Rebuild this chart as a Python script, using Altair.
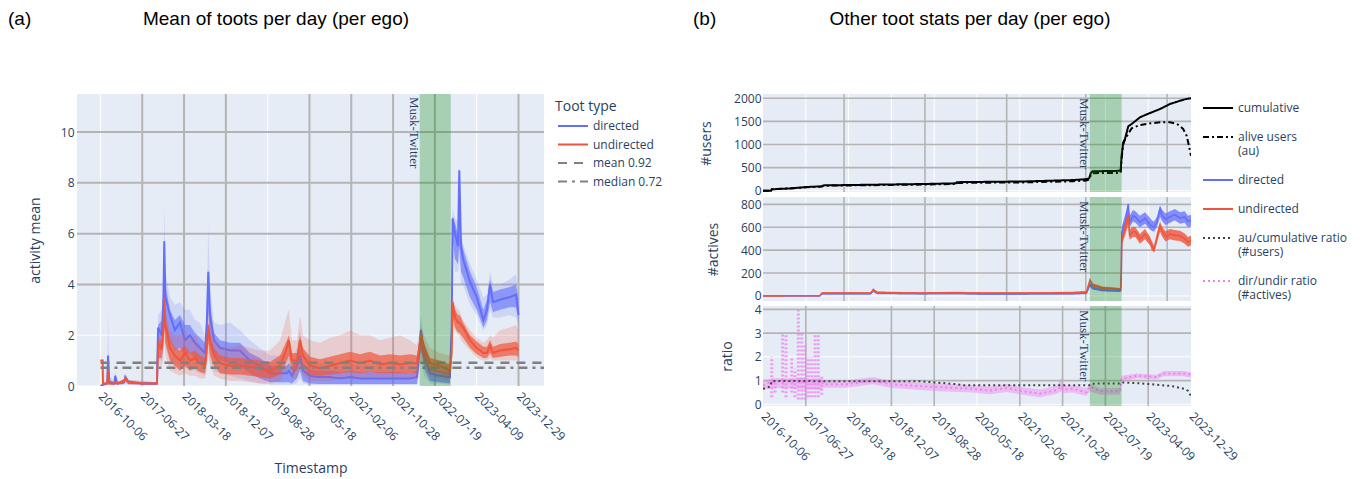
import altair as alt
import pandas as pd

# ---------------- shared ----------------
tick_dates = ["2016-10-06", "2017-06-27", "2018-03-18", "2018-12-07", "2019-08-28", "2020-05-18",
              "2021-02-06", "2021-10-28", "2022-07-19", "2023-04-09", "2023-12-29"]
musk_start = "2022-04-14"
musk_end = "2022-10-27"
musk_label = "Musk-Twitter"

# ---------------- panel (a) data ----------------
left_dates = [
    "2016-10-06", "2016-10-20", "2016-10-22", "2016-11-18", "2016-11-23", "2016-12-01", "2017-01-02", "2017-01-07", "2017-01-20", "2017-03-05",
    "2017-03-12", "2017-04-01", "2017-06-27", "2017-09-28", "2017-10-05", "2017-10-29", "2017-11-08", "2017-11-13", "2017-11-20", "2017-12-19",
    "2018-01-19", "2018-02-20", "2018-03-24", "2018-04-24", "2018-05-26", "2018-06-26", "2018-07-28", "2018-08-09", "2018-08-18", "2018-08-29",
    "2018-09-23", "2018-10-31", "2019-01-02", "2019-03-06", "2019-05-08", "2019-07-10", "2019-09-12", "2019-11-14", "2019-12-28", "2020-01-09",
    "2020-01-28", "2020-02-29", "2020-03-19", "2020-04-07", "2020-05-21", "2020-07-23", "2020-09-25", "2020-11-27", "2021-01-29", "2021-04-02",
    "2021-06-04", "2021-08-06", "2021-10-08", "2021-12-11", "2022-02-12", "2022-03-28", "2022-04-22", "2022-05-11", "2022-06-18", "2022-08-20",
    "2022-10-22", "2022-11-02", "2022-11-08", "2022-11-23", "2022-12-12", "2022-12-20", "2022-12-31", "2023-01-13", "2023-02-26", "2023-04-09",
    "2023-05-21", "2023-06-13", "2023-07-02", "2023-07-21", "2023-09-03", "2023-11-05", "2023-12-13", "2023-12-29"]
dir_mean = [
    0.00, 0.05, 0.05, 0.10, 1.20, 0.15, 0.10, 0.40, 0.10, 0.15,
    0.35, 0.15, 0.10, 0.10, 2.30, 2.00, 3.50, 5.70, 3.50, 2.80,
    2.20, 2.50, 1.80, 2.00, 1.70, 1.50, 1.30, 2.50, 4.50, 2.80,
    1.80, 1.50, 1.40, 1.40, 1.00, 0.80, 0.50, 0.50, 0.50, 0.60,
    0.40, 0.80, 1.20, 0.60, 0.40, 0.35, 0.35, 0.30, 0.35, 0.30,
    0.30, 0.30, 0.30, 0.30, 0.30, 0.35, 2.20, 1.20, 0.50, 0.40,
    0.35, 2.30, 6.60, 6.00, 5.50, 8.50, 5.50, 5.00, 4.10, 3.50,
    2.60, 3.00, 4.00, 3.30, 3.40, 3.50, 3.60, 2.80]
dir_core_low = [
    0.00, 0.02, 0.02, 0.05, 0.80, 0.08, 0.05, 0.25, 0.05, 0.08,
    0.25, 0.08, 0.05, 0.05, 1.50, 1.40, 2.20, 4.00, 2.20, 1.80,
    1.40, 1.50, 1.20, 1.30, 1.10, 1.00, 0.80, 1.60, 3.00, 1.80,
    1.20, 1.00, 0.90, 0.80, 0.50, 0.30, 0.15, 0.15, 0.15, 0.15,
    0.10, 0.30, 0.60, 0.20, 0.10, 0.08, 0.08, 0.08, 0.08, 0.08,
    0.08, 0.08, 0.08, 0.08, 0.08, 0.08, 1.40, 0.70, 0.20, 0.15,
    0.10, 1.80, 5.80, 5.00, 4.80, 5.50, 4.50, 4.30, 3.50, 3.00,
    2.30, 2.60, 3.30, 2.90, 3.00, 3.10, 3.10, 2.60]
dir_core_high = [
    0.00, 0.08, 0.08, 0.15, 1.30, 0.25, 0.15, 0.45, 0.15, 0.22,
    0.40, 0.22, 0.15, 0.15, 2.40, 2.60, 4.00, 5.80, 4.00, 3.00,
    2.60, 2.80, 2.40, 2.40, 2.10, 1.90, 1.70, 3.00, 4.60, 3.20,
    2.10, 1.80, 1.70, 1.70, 1.30, 1.10, 0.80, 0.80, 0.80, 0.90,
    0.70, 1.10, 1.50, 0.90, 0.65, 0.60, 0.60, 0.55, 0.60, 0.55,
    0.55, 0.55, 0.55, 0.55, 0.50, 0.60, 2.30, 1.50, 0.70, 0.60,
    0.55, 2.60, 6.70, 6.40, 6.00, 8.50, 5.90, 5.40, 4.50, 3.90,
    3.00, 3.40, 4.20, 3.70, 3.80, 3.90, 4.00, 3.40]
dir_low = [
    0.00, 0.00, 0.00, 0.05, 0.40, 0.05, 0.05, 0.10, 0.05, 0.05,
    0.10, 0.05, 0.05, 0.05, 1.00, 1.00, 1.50, 3.00, 1.50, 1.00,
    0.80, 0.80, 0.70, 0.70, 0.60, 0.50, 0.40, 1.00, 2.00, 1.00,
    0.60, 0.50, 0.40, 0.30, 0.20, 0.10, 0.05, 0.05, 0.05, 0.05,
    0.05, 0.10, 0.30, 0.10, 0.05, 0.05, 0.05, 0.05, 0.05, 0.05,
    0.05, 0.05, 0.05, 0.05, 0.05, 0.05, 1.00, 0.40, 0.10, 0.10,
    0.05, 1.50, 5.50, 4.50, 4.50, 5.00, 4.00, 4.00, 3.20, 2.80,
    2.20, 2.40, 3.00, 2.70, 2.70, 2.80, 2.70, 2.40]
dir_high = [
    0.00, 0.10, 0.10, 0.20, 3.00, 0.40, 0.20, 0.60, 0.20, 0.25,
    0.50, 0.25, 0.20, 0.15, 2.80, 3.00, 4.50, 7.20, 4.50, 3.50,
    3.20, 3.30, 3.00, 3.00, 2.60, 2.50, 2.00, 3.50, 6.30, 4.00,
    2.50, 2.40, 2.50, 2.20, 1.80, 1.50, 1.20, 1.20, 1.30, 1.40,
    1.00, 1.50, 2.20, 1.40, 1.00, 0.90, 0.90, 0.80, 0.90, 0.80,
    0.80, 0.80, 0.80, 0.80, 0.70, 0.80, 2.80, 1.80, 1.00, 0.80,
    0.80, 3.00, 7.00, 6.60, 6.50, 8.60, 6.00, 5.60, 4.80, 4.20,
    3.50, 3.60, 4.50, 4.00, 4.00, 4.20, 4.40, 3.60]
undir_mean = [
    1.00, 1.00, 0.10, 0.10, 0.60, 0.10, 0.10, 0.15, 0.10, 0.20,
    0.30, 0.15, 0.10, 0.10, 1.60, 1.50, 2.20, 3.40, 2.40, 1.50,
    1.20, 1.00, 1.30, 1.00, 1.10, 0.90, 0.80, 1.50, 2.40, 1.80,
    1.20, 0.90, 0.80, 0.80, 0.75, 0.70, 0.60, 0.80, 1.50, 1.80,
    1.00, 1.00, 1.80, 1.20, 0.80, 0.70, 0.80, 0.90, 1.00, 0.90,
    1.00, 0.85, 0.90, 0.85, 0.90, 0.90, 2.00, 1.50, 0.90, 0.80,
    0.60, 1.30, 3.30, 2.70, 2.50, 2.50, 2.40, 2.30, 1.80, 1.50,
    1.30, 1.30, 1.60, 1.30, 1.40, 1.45, 1.50, 1.40]
undir_core_low = [
    0.98, 0.95, 0.07, 0.07, 0.40, 0.07, 0.07, 0.10, 0.07, 0.12,
    0.20, 0.10, 0.07, 0.07, 1.10, 1.10, 1.60, 2.40, 1.70, 1.00,
    0.80, 0.60, 0.80, 0.60, 0.70, 0.55, 0.50, 1.00, 1.70, 1.20,
    0.80, 0.50, 0.45, 0.45, 0.40, 0.35, 0.30, 0.45, 1.00, 1.20,
    0.60, 0.60, 1.20, 0.70, 0.45, 0.40, 0.45, 0.50, 0.55, 0.50,
    0.55, 0.50, 0.50, 0.50, 0.50, 0.50, 1.50, 1.00, 0.60, 0.50,
    0.40, 1.00, 2.70, 2.30, 2.10, 2.10, 2.00, 1.90, 1.50, 1.25,
    1.10, 1.10, 1.30, 1.10, 1.15, 1.20, 1.20, 1.15]
undir_core_high = [
    1.02, 1.02, 0.13, 0.13, 0.70, 0.13, 0.13, 0.20, 0.13, 0.28,
    0.38, 0.20, 0.13, 0.13, 1.80, 1.80, 2.50, 3.50, 2.70, 1.90,
    1.50, 1.40, 1.60, 1.30, 1.40, 1.20, 1.10, 1.80, 2.50, 2.00,
    1.50, 1.20, 1.10, 1.10, 1.05, 1.00, 0.95, 1.20, 1.80, 2.00,
    1.30, 1.30, 2.00, 1.50, 1.15, 1.05, 1.15, 1.25, 1.35, 1.25,
    1.35, 1.20, 1.25, 1.20, 1.25, 1.20, 2.20, 1.70, 1.10, 1.00,
    0.85, 1.60, 3.40, 3.00, 2.80, 2.80, 2.70, 2.50, 2.00, 1.75,
    1.55, 1.55, 1.80, 1.55, 1.65, 1.70, 1.75, 1.65]
undir_low = [
    0.95, 0.90, 0.05, 0.05, 0.20, 0.05, 0.05, 0.05, 0.05, 0.10,
    0.15, 0.05, 0.05, 0.05, 0.80, 0.80, 1.00, 1.80, 1.20, 0.60,
    0.50, 0.40, 0.50, 0.40, 0.40, 0.30, 0.30, 0.60, 1.20, 0.80,
    0.40, 0.30, 0.20, 0.20, 0.15, 0.10, 0.10, 0.20, 0.60, 0.80,
    0.30, 0.30, 0.80, 0.40, 0.20, 0.20, 0.20, 0.30, 0.30, 0.30,
    0.30, 0.30, 0.30, 0.30, 0.30, 0.30, 1.00, 0.80, 0.40, 0.30,
    0.20, 0.80, 2.50, 2.20, 2.00, 2.00, 1.80, 1.70, 1.40, 1.10,
    1.00, 1.00, 1.10, 1.00, 1.00, 1.00, 1.00, 1.00]
undir_high = [
    1.05, 1.05, 0.15, 0.15, 1.00, 0.20, 0.15, 0.25, 0.15, 0.30,
    0.45, 0.25, 0.20, 0.15, 2.00, 2.00, 3.00, 4.00, 3.00, 2.20,
    2.00, 2.00, 2.20, 1.80, 2.00, 1.60, 1.40, 2.00, 3.00, 2.50,
    1.80, 1.60, 1.50, 1.60, 1.50, 1.40, 1.40, 1.80, 2.80, 3.00,
    1.80, 1.80, 2.80, 2.00, 1.80, 1.70, 1.90, 2.00, 2.20, 2.00,
    2.00, 1.80, 1.90, 2.00, 1.80, 1.60, 2.40, 2.00, 1.50, 1.30,
    1.20, 1.80, 3.60, 3.20, 3.00, 3.00, 2.80, 2.60, 2.20, 1.90,
    1.70, 1.80, 2.00, 1.90, 2.20, 2.30, 2.40, 2.20]
mean_value = 0.92
median_value = 0.72

# ---------------- panel (b) data ----------------
users_dates = ["2016-10-06", "2016-11-25", "2016-11-29", "2017-03-22", "2017-07-03", "2017-10-05", "2017-10-13", "2018-08-17",
               "2019-06-22", "2020-01-10", "2020-01-14", "2021-02-28", "2021-12-31", "2022-03-24", "2022-04-10", "2022-04-20",
               "2022-05-01", "2022-10-21", "2022-10-27", "2022-11-06", "2022-11-17", "2022-12-07", "2022-12-28", "2023-02-17",
               "2023-04-20", "2023-06-21", "2023-08-21", "2023-10-01", "2023-10-22", "2023-11-11", "2023-12-02", "2023-12-16",
               "2023-12-29"]
users_cumulative = [0, 0, 30, 50, 80, 95, 115, 130, 145, 160, 185, 200, 230, 250, 270, 380, 420, 430, 757, 1046, 1120, 1392,
                    1442, 1587, 1680, 1766, 1875, 1920, 1946, 1965, 1985, 1992, 2000]
users_alive = [0, 0, 30, 48, 75, 90, 108, 120, 133, 145, 168, 180, 205, 220, 240, 340, 380, 385, 700, 1000, 1110, 1230,
               1350, 1420, 1457, 1478, 1478, 1450, 1400, 1334, 1190, 973, 757]

act_dates = ["2016-10-06", "2017-09-20", "2017-10-05", "2018-08-01", "2018-08-17", "2018-09-10", "2019-06-01", "2020-01-15",
             "2020-06-01", "2021-02-28", "2021-12-31", "2022-03-24", "2022-04-15", "2022-05-01", "2022-07-01", "2022-10-21",
             "2022-10-25", "2022-10-28", "2022-11-06", "2022-11-20", "2022-12-07", "2022-12-15", "2023-01-05", "2023-01-20",
             "2023-02-17", "2023-03-20", "2023-04-20", "2023-05-01", "2023-05-15", "2023-06-01", "2023-06-21", "2023-07-05",
             "2023-07-25", "2023-08-21", "2023-09-20", "2023-10-22", "2023-11-20", "2023-12-10", "2023-12-29"]
act_directed = [0, 0, 20, 20, 45, 25, 20, 22, 18, 18, 20, 25, 100, 70, 50, 45, 200, 550, 600, 650, 803, 640, 700, 690,
                643, 680, 620, 613, 600, 640, 760, 700, 670, 690, 710, 680, 690, 650, 660]
act_directed_low = [0, 0, 12, 12, 35, 15, 12, 14, 10, 10, 12, 15, 80, 55, 38, 35, 180, 500, 560, 600, 700, 600, 650, 640,
                    600, 630, 580, 570, 560, 600, 690, 650, 620, 640, 660, 630, 640, 600, 610]
act_directed_high = [3, 5, 28, 28, 55, 32, 28, 30, 26, 26, 28, 35, 115, 85, 62, 56, 220, 600, 650, 720, 810, 700, 750, 740,
                     700, 730, 680, 660, 650, 690, 790, 750, 720, 740, 760, 730, 740, 700, 710]
act_undirected = [0, 2, 25, 25, 55, 30, 25, 28, 25, 25, 28, 35, 140, 95, 70, 60, 180, 480, 526, 600, 700, 530, 560, 560,
                  497, 540, 480, 439, 400, 500, 613, 560, 520, 540, 530, 526, 500, 470, 480]
act_undirected_low = [0, 0, 17, 17, 45, 22, 17, 20, 17, 17, 20, 26, 120, 80, 58, 50, 160, 440, 480, 540, 620, 490, 515, 515,
                      455, 495, 440, 400, 380, 460, 560, 515, 475, 495, 485, 480, 455, 430, 440]
act_undirected_high = [3, 6, 33, 33, 65, 38, 33, 36, 33, 33, 36, 44, 150, 110, 82, 70, 200, 520, 570, 660, 720, 580, 605, 600,
                       540, 585, 520, 480, 440, 545, 650, 600, 565, 585, 575, 570, 545, 515, 525]

aur_dates = ["2016-10-06", "2016-11-20", "2016-11-29", "2019-06-01", "2020-01-14", "2020-03-01", "2022-04-10", "2022-04-25",
             "2022-10-21", "2022-10-27", "2023-03-01", "2023-09-01", "2023-11-20", "2023-12-10", "2023-12-29"]
aur_values = [0.65, 0.75, 0.98, 0.97, 0.85, 0.80, 0.80, 0.87, 0.88, 0.92, 0.88, 0.77, 0.65, 0.57, 0.35]

dur_dates = ["2016-10-06", "2016-11-29", "2017-10-03", "2017-10-11", "2018-03-08", "2018-08-15", "2018-11-28", "2019-03-10",
             "2019-10-02", "2020-04-22", "2020-08-05", "2020-11-16", "2021-02-25", "2021-06-10", "2021-09-20", "2021-10-23",
             "2021-10-28", "2021-12-30", "2022-03-24", "2022-04-14", "2022-06-15", "2022-10-17", "2022-10-27", "2023-01-28",
             "2023-05-31", "2023-07-11", "2023-11-11", "2023-12-29"]
dur_values = [0.80, 0.95, 0.95, 0.85, 0.85, 1.00, 0.85, 0.80, 0.72, 0.65, 0.58, 0.68, 0.55, 0.45, 0.60, 0.75, 0.62, 0.65,
              0.50, 0.75, 0.55, 0.55, 1.08, 1.20, 1.15, 1.30, 1.30, 1.25]
dur_low = [0.60, 0.70, 0.60, 0.70, 0.70, 0.85, 0.70, 0.65, 0.55, 0.50, 0.42, 0.52, 0.40, 0.30, 0.45, 0.55, 0.48, 0.50,
           0.35, 0.55, 0.40, 0.40, 0.95, 1.10, 1.05, 1.18, 1.18, 1.12]
dur_high = [1.00, 1.10, 1.10, 1.00, 1.00, 1.15, 1.00, 0.95, 0.88, 0.80, 0.75, 0.85, 0.72, 0.62, 0.78, 1.10, 0.78, 0.80,
            0.68, 0.90, 0.68, 0.70, 1.20, 1.30, 1.25, 1.40, 1.40, 1.35]

early_col_dates = ["2016-11-29", "2016-12-20", "2017-02-04", "2017-02-25", "2017-04-01", "2017-04-21", "2017-05-12",
                   "2017-06-02", "2017-06-22", "2017-07-12", "2017-08-02", "2017-08-23", "2017-09-12", "2017-10-03"]
early_col_low = [0.3, 0.5, 0.5, 0.3, 0.5, 0.3, 0.2, 0.2, 0.2, 0.3, 0.3, 0.3, 0.3, 0.4]
early_col_high = [2.0, 1.0, 3.0, 3.0, 2.0, 1.5, 4.0, 3.0, 2.5, 2.0, 2.0, 3.0, 3.0, 1.2]

# grid line positions (tick values)
left_vgrid_gray_idx = [1, 2, 3, 5, 6, 7, 8, 10]
left_vgrid_white_idx = [0, 4, 9]
left_hgrid_gray = [4, 6, 8, 10]
left_hgrid_white = [0, 2]
top_vgrid_gray = ["2018-02-18", "2019-07-02", "2020-11-17", "2022-03-20", "2023-08-04"]
top_vgrid_white_idx = [1, 2, 3, 4, 5, 6, 7, 8, 9]
ratio_vgrid_gray_idx = [1, 3, 4, 6, 7, 8, 9]
ratio_vgrid_white_idx = [2, 5]
users_ticks = [0, 500, 1000, 1500, 2000]
actives_ticks = [0, 200, 400, 600, 800]
ratio_ticks = [0, 1, 2, 3, 4]
ratio_hgrid_gray = [1, 3, 4]
ratio_hgrid_white = [0, 2]

# ---------------- styling ----------------
FONT = "Open Sans"
TXT = "#2a3f5f"
GRAY = "#b4b4b4"
BLUE = "#636efa"
RED = "#EF553B"
BG = "#E5ECF6"
LEFT_DOMAIN = ["2016-05-11", "2024-06-07"]
RIGHT_DOMAIN = ["2016-10-06", "2023-12-29"]


def dt(s):
    y, m, d = (int(p) for p in s.split("-"))
    return alt.DateTime(year=y, month=m, date=d, utc=True)


tick_values = [dt(s) for s in tick_dates]


def bottom_axis(title, tpad):
    return alt.Axis(values=tick_values, format="%Y-%m-%d", labelAngle=45, labelAlign="left",
                    labelBaseline="middle", labelPadding=8, labelFlush=False, labelOverlap=False,
                    title=title, titlePadding=tpad, grid=False, ticks=False, domain=False)


def X(field, domain, axis):
    return alt.X(f"{field}:T", scale=alt.Scale(type="utc", domain=[dt(domain[0]), dt(domain[1])]), axis=axis)


def Y(field, domain, axis):
    return alt.Y(f"{field}:Q", scale=alt.Scale(domain=domain, nice=False, zero=False), axis=axis)


def yaxis(values, title, tpad, lpad):
    return alt.Axis(values=values, title=title, titlePadding=tpad, labelPadding=lpad, format="d",
                    grid=False, ticks=False, domain=False)


# ================= panel (a) =================
lx_axis = bottom_axis("Timestamp", 19)
LY_DOM = [0, 11.5]
ly_axis = yaxis([0, 2, 4, 6, 8, 10], "activity mean", 18, 3)


def LX(field="date"):
    return X(field, LEFT_DOMAIN, lx_axis)


def LY(field):
    return Y(field, LY_DOM, ly_axis)


L_series = ["directed", "undirected", f"mean {mean_value}", f"median {median_value}"]
L_colors = [BLUE, RED, "#808080", "#808080"]
L_dashes = [[1, 0], [1, 0], [9, 7], [9, 5, 3, 5]]
left_legend = alt.Legend(title="Toot type", orient="right", offset=5, padding=6, titleFontSize=14,
                         titleFontWeight="normal", titleColor=TXT, titleFont=FONT, titlePadding=6,
                         labelFontSize=12, labelColor=TXT, labelFont=FONT, symbolType="M-0.6,0H5.4",
                         symbolSize=100, symbolStrokeWidth=2, labelOffset=26, rowPadding=6.5)


def L_color():
    return alt.Color("series:N", scale=alt.Scale(domain=L_series, range=L_colors), legend=left_legend)


def L_dash():
    return alt.StrokeDash("series:N", scale=alt.Scale(domain=L_series, range=L_dashes), legend=left_legend)


l_vg_gray = alt.Chart(pd.DataFrame({"date": [tick_dates[i] for i in left_vgrid_gray_idx]})).mark_rule(
    color=GRAY, strokeWidth=2).encode(x=LX())
l_vg_white = alt.Chart(pd.DataFrame({"date": [tick_dates[i] for i in left_vgrid_white_idx]})).mark_rule(
    color="white", strokeWidth=1).encode(x=LX())
l_hg_gray = alt.Chart(pd.DataFrame({"v": left_hgrid_gray})).mark_rule(color=GRAY, strokeWidth=2).encode(y=LY("v"))
l_hg_white = alt.Chart(pd.DataFrame({"v": left_hgrid_white})).mark_rule(color="white", strokeWidth=1).encode(y=LY("v"))

ldf_d = pd.DataFrame({"date": left_dates, "m": dir_mean, "lo": dir_low, "hi": dir_high,
                      "clo": dir_core_low, "chi": dir_core_high, "series": "directed"})
ldf_u = pd.DataFrame({"date": left_dates, "m": undir_mean, "lo": undir_low, "hi": undir_high,
                      "clo": undir_core_low, "chi": undir_core_high, "series": "undirected"})

whisk_d = alt.Chart(ldf_d).mark_area(color=BLUE, opacity=0.18, clip=True).encode(x=LX(), y=LY("lo"), y2="hi")
core_d = alt.Chart(ldf_d).mark_area(color=BLUE, opacity=0.6, clip=True).encode(x=LX(), y=LY("clo"), y2="chi")
whisk_u = alt.Chart(ldf_u).mark_area(color=RED, opacity=0.2, clip=True).encode(x=LX(), y=LY("lo"), y2="hi")
core_u = alt.Chart(ldf_u).mark_area(color=RED, opacity=0.7, clip=True).encode(x=LX(), y=LY("clo"), y2="chi")
line_d = alt.Chart(ldf_d).mark_line(strokeWidth=2, clip=True).encode(x=LX(), y=LY("m"), color=L_color(), strokeDash=L_dash())
line_u = alt.Chart(ldf_u).mark_line(strokeWidth=2, clip=True).encode(x=LX(), y=LY("m"), color=L_color(), strokeDash=L_dash())

mdf = pd.DataFrame({"series": [f"mean {mean_value}", f"median {median_value}"],
                    "date": [left_dates[0]] * 2, "end": [LEFT_DOMAIN[1]] * 2, "v": [mean_value, median_value]})
stats_rules = alt.Chart(mdf).mark_rule(strokeWidth=2.5, clip=True).encode(
    x=LX(), x2="end", y=LY("v"), color=L_color(), strokeDash=L_dash())

bdf = pd.DataFrame({"date": [musk_start], "end": [musk_end], "label": [musk_label]})
l_band = alt.Chart(bdf).mark_rect(color="green", opacity=0.27).encode(x=LX(), x2="end")
l_band_text = alt.Chart(bdf).mark_text(angle=90, align="left", baseline="top", font="Liberation Serif",
                                        fontSize=13, color=TXT).encode(x=LX(), y=alt.value(3), text="label:N")

one = pd.DataFrame({"k": [0]})
l_tag = alt.Chart(one).mark_text(align="left", baseline="middle", font="Liberation Sans", fontSize=19,
                                 color="black").encode(x=alt.value(-69), y=alt.value(-75), text=alt.value("(a)"))
l_title = alt.Chart(one).mark_text(align="center", baseline="middle", font="Liberation Sans", fontSize=19,
                                   color="black").encode(x=alt.value(199), y=alt.value(-75),
                                                         text=alt.value("Mean of toots per day (per ego)"))

left = alt.layer(l_vg_white, l_hg_white, l_vg_gray, l_hg_gray, whisk_d, core_d, line_d, whisk_u, core_u, line_u,
                 stats_rules, l_band, l_band_text, l_tag, l_title).properties(width=467, height=292)

# ================= panel (b) =================
R_series = ["cumulative", "alive users|(au)", "directed", "undirected",
            "au/cumulative ratio|(#users)", "dir/undir ratio|(#actives)"]
R_colors = ["black", "black", BLUE, RED, "#444444", "violet"]
R_dashes = [[1, 0], [6, 3, 2, 3], [1, 0], [1, 0], [2, 3], [2, 3]]
right_legend = alt.Legend(title=None, orient="none", legendX=440, legendY=8, padding=0, labelFontSize=12,
                          labelColor=TXT, labelFont=FONT, symbolType="M-1.2,0H4.8", symbolSize=100,
                          symbolStrokeWidth=2, labelOffset=23, rowPadding=17,
                          labelExpr="split(datum.label, '|')")


def R_color():
    return alt.Color("series:N", scale=alt.Scale(domain=R_series, range=R_colors), legend=right_legend)


def R_dash():
    return alt.StrokeDash("series:N", scale=alt.Scale(domain=R_series, range=R_dashes), legend=right_legend)


def RX(axis, field="date"):
    return X(field, RIGHT_DOMAIN, axis)


def musk_layers(axis):
    band = alt.Chart(bdf).mark_rect(color="green", opacity=0.27).encode(x=RX(axis), x2="end")
    txt = alt.Chart(bdf).mark_text(angle=90, align="left", baseline="top", font="Liberation Serif",
                                   fontSize=13, color=TXT).encode(x=RX(axis), y=alt.value(4), text="label:N")
    return [band, txt]


def grid_layers(axis, ylayer, vgray_dates, vwhite_dates, hgray, hwhite, width_gray=1.6):
    return [
        alt.Chart(pd.DataFrame({"date": vwhite_dates})).mark_rule(color="white", strokeWidth=1).encode(x=RX(axis)),
        alt.Chart(pd.DataFrame({"v": hwhite})).mark_rule(color="white", strokeWidth=1).encode(y=ylayer("v")),
        alt.Chart(pd.DataFrame({"date": vgray_dates})).mark_rule(color=GRAY, strokeWidth=width_gray).encode(x=RX(axis)),
        alt.Chart(pd.DataFrame({"v": hgray})).mark_rule(color=GRAY, strokeWidth=width_gray).encode(y=ylayer("v")),
    ]


# --- #users ---
U_DOM = [-28, 2091]
u_axis = yaxis(users_ticks, "#users", 20, 2)


def UY(f):
    return Y(f, U_DOM, u_axis)


udf_c = pd.DataFrame({"date": users_dates, "v": users_cumulative, "series": "cumulative"})
udf_a = pd.DataFrame({"date": users_dates, "v": users_alive, "series": "alive users|(au)"})
s1 = alt.layer(
    *grid_layers(None, UY, top_vgrid_gray, [tick_dates[i] for i in top_vgrid_white_idx], users_ticks[1:], [0]),
    alt.Chart(udf_a).mark_line(strokeWidth=2, clip=True).encode(x=RX(None), y=UY("v"), color=R_color(), strokeDash=R_dash()),
    alt.Chart(udf_c).mark_line(strokeWidth=2, clip=True).encode(x=RX(None), y=UY("v"), color=R_color(), strokeDash=R_dash()),
    *musk_layers(None),
    alt.Chart(one).mark_text(align="left", baseline="middle", font="Liberation Sans", fontSize=19,
                             color="black").encode(x=alt.value(-70), y=alt.value(-75), text=alt.value("(b)")),
    alt.Chart(one).mark_text(align="center", baseline="middle", font="Liberation Sans", fontSize=19,
                             color="black").encode(x=alt.value(207), y=alt.value(-75),
                                                   text=alt.value("Other toot stats per day (per ego)")),
).properties(width=428, height=98)

# --- #actives ---
A_DOM = [-44, 864]
a_axis = yaxis(actives_ticks, "#actives", 20, 2)


def AY(f):
    return Y(f, A_DOM, a_axis)


adf_d = pd.DataFrame({"date": act_dates, "v": act_directed, "lo": act_directed_low, "hi": act_directed_high,
                      "series": "directed"})
adf_u = pd.DataFrame({"date": act_dates, "v": act_undirected, "lo": act_undirected_low, "hi": act_undirected_high,
                      "series": "undirected"})
s2 = alt.layer(
    *grid_layers(None, AY, top_vgrid_gray, [tick_dates[i] for i in top_vgrid_white_idx], actives_ticks[1:], [0]),
    alt.Chart(adf_d).mark_area(color=BLUE, opacity=0.75, clip=True).encode(x=RX(None), y=AY("lo"), y2="hi"),
    alt.Chart(adf_d).mark_line(strokeWidth=1.5, clip=True).encode(x=RX(None), y=AY("v"), color=R_color(), strokeDash=R_dash()),
    alt.Chart(adf_u).mark_area(color=RED, opacity=0.8, clip=True).encode(x=RX(None), y=AY("lo"), y2="hi"),
    alt.Chart(adf_u).mark_line(strokeWidth=1.5, clip=True).encode(x=RX(None), y=AY("v"), color=R_color(), strokeDash=R_dash()),
    *musk_layers(None),
).properties(width=428, height=104)

# --- ratio ---
R_DOM = [-0.07, 4.14]
r_axis = yaxis(ratio_ticks, "ratio", 20, 2)
rx_axis = bottom_axis(None, 12)


def RY(f):
    return Y(f, R_DOM, r_axis)


cols_df = pd.DataFrame({"date": early_col_dates, "lo": early_col_low, "hi": early_col_high})
dur_df = pd.DataFrame({"date": dur_dates, "v": dur_values, "lo": dur_low, "hi": dur_high,
                       "series": "dir/undir ratio|(#actives)"})
aur_df = pd.DataFrame({"date": aur_dates, "v": aur_values, "series": "au/cumulative ratio|(#users)"})
s3 = alt.layer(
    *grid_layers(rx_axis, RY, [tick_dates[i] for i in ratio_vgrid_gray_idx],
                 [tick_dates[i] for i in ratio_vgrid_white_idx], ratio_hgrid_gray, ratio_hgrid_white),
    alt.Chart(cols_df).mark_rule(color="violet", strokeWidth=3, strokeDash=[2, 2], opacity=0.75).encode(
        x=RX(rx_axis), y=RY("lo"), y2="hi"),
    alt.Chart(dur_df).mark_area(color="violet", opacity=0.45, clip=True).encode(x=RX(rx_axis), y=RY("lo"), y2="hi"),
    alt.Chart(dur_df).mark_line(strokeWidth=2, clip=True).encode(x=RX(rx_axis), y=RY("v"), color=R_color(), strokeDash=R_dash()),
    alt.Chart(aur_df).mark_line(strokeWidth=2, clip=True).encode(x=RX(rx_axis), y=RY("v"), color=R_color(), strokeDash=R_dash()),
    *musk_layers(rx_axis),
).properties(width=428, height=100)

right = alt.vconcat(s1, s2, s3, spacing=5, bounds="flush").resolve_scale(y="independent")

chart = alt.hconcat(left, right, spacing=219, bounds="flush").resolve_scale(
    color="independent", strokeDash="independent", x="independent", y="independent"
).properties(
    padding={"left": 0, "top": 2, "right": 0, "bottom": 5}
).configure(font=FONT).configure_view(fill=BG, stroke=None).configure_axis(
    labelFont=FONT, titleFont=FONT, labelColor=TXT, titleColor=TXT, labelFontSize=12,
    titleFontSize=14, titleFontWeight="normal"
)

chart.save("out.html", embed_options={"renderer": "svg", "actions": False})
